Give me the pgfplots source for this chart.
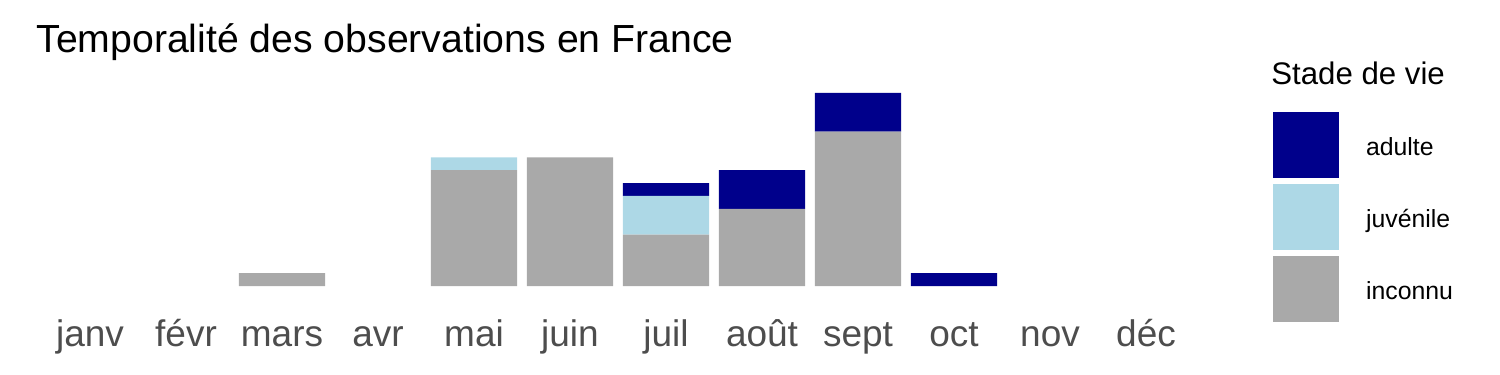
\documentclass[border=0pt]{standalone}
\usepackage{pgfplots}
\pgfplotsset{compat=1.18}
\usepackage{fontspec}
\setmainfont{Liberation Sans}
\definecolor{cadulte}{HTML}{00008B}
\definecolor{cjuv}{HTML}{ADD8E6}
\definecolor{cinc}{HTML}{A9A9A9}
\definecolor{ctick}{HTML}{4D4D4D}
\begin{document}
\begin{tikzpicture}
\useasboundingbox (0,0) rectangle (750pt,187.5pt);
\begin{axis}[
  at={(16.2pt,39.65pt)}, anchor=south west,
  scale only axis, width=585.6pt, height=106.2pt,
  ybar stacked, bar width=0.9,
  xmin=-0.6, xmax=11.6, ymin=-0.75, ymax=15.75,
  axis line style={draw=none}, tick style={draw=none},
  major tick length=0pt,
  ytick=\empty,
  xtick={0,...,11},
  xticklabels={janv,févr,mars,avr,mai,juin,juil,août,sept,oct,nov,déc},
  xticklabel style={anchor=base, yshift=-25.2pt, text=ctick, font=\fontsize{18.5}{22}\selectfont, inner sep=0pt},
  reverse legend,
  legend cell align=left,
  legend style={at={(1.0593,0.8649)}, anchor=north west, draw=none, fill=none,
    inner sep=0pt, outer sep=0pt, row sep=3pt, column sep=13.5pt,
    nodes={inner sep=0pt, outer sep=0pt},
    font=\fontsize{12.4}{14}\selectfont},
]
\addplot[fill=cinc, draw=none, legend image code/.code={\fill[cinc] (0pt,-15.2pt) rectangle (33pt,17.8pt);}] coordinates {(0,0) (1,0) (2,1) (3,0) (4,9) (5,10) (6,4) (7,6) (8,12) (9,0) (10,0) (11,0)};
\addplot[fill=cjuv, draw=none, legend image code/.code={\fill[cjuv] (0pt,-15.2pt) rectangle (33pt,17.8pt);}] coordinates {(0,0) (1,0) (2,0) (3,0) (4,1) (5,0) (6,3) (7,0) (8,0) (9,0) (10,0) (11,0)};
\addplot[fill=cadulte, draw=none, legend image code/.code={\fill[cadulte] (0pt,-15.2pt) rectangle (33pt,17.8pt);}] coordinates {(0,0) (1,0) (2,0) (3,0) (4,0) (5,0) (6,1) (7,3) (8,3) (9,1) (10,0) (11,0)};
\legend{inconnu,juvénile,adulte}
\end{axis}
\node[anchor=base west, inner sep=0pt, font=\fontsize{19.6}{23}\selectfont] at (18pt,161pt) {Temporalité des observations en France};
\node[anchor=west, inner sep=0pt, font=\fontsize{15.6}{18}\selectfont] at (635.5pt,151pt) {Stade de vie};
\end{tikzpicture}
\end{document}
